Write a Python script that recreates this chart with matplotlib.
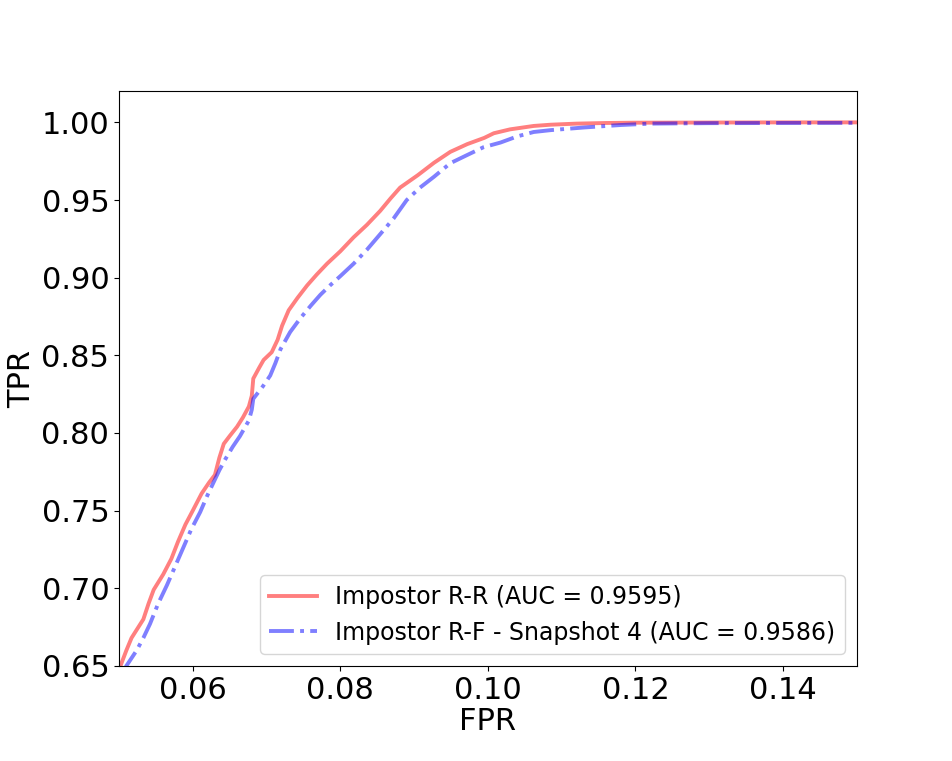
import numpy as np
import matplotlib
matplotlib.use("Agg")
import matplotlib.pyplot as plt

# ROC points (FPR, TPR)
fpr_rr = [0.0500, 0.0502, 0.0510, 0.0517, 0.0525, 0.0533, 0.0540, 0.0547, 0.0560,
          0.0571, 0.0580, 0.0590, 0.0600, 0.0612, 0.0622, 0.0630, 0.0636, 0.0642,
          0.0650, 0.0660, 0.0668, 0.0676, 0.0680, 0.0682, 0.0690, 0.0696, 0.0707,
          0.0715, 0.0721, 0.0730, 0.0742, 0.0755, 0.0768, 0.0782, 0.0800, 0.0818,
          0.0836, 0.0854, 0.0868, 0.0881, 0.0905, 0.0927, 0.0949, 0.0972, 0.0995,
          0.1008, 0.1030, 0.1062, 0.1085, 0.1120, 0.1160, 0.1198, 0.1300, 0.1400,
          0.1500]
tpr_rr = [0.645, 0.650, 0.660, 0.668, 0.674, 0.680, 0.690, 0.699, 0.709,
          0.719, 0.730, 0.741, 0.750, 0.761, 0.768, 0.773, 0.784, 0.793,
          0.798, 0.804, 0.810, 0.817, 0.824, 0.835, 0.842, 0.847, 0.852,
          0.860, 0.869, 0.879, 0.887, 0.895, 0.902, 0.909, 0.917, 0.926,
          0.934, 0.943, 0.951, 0.958, 0.966, 0.974, 0.981, 0.986, 0.990,
          0.993, 0.9955, 0.9977, 0.9985, 0.9992, 0.9996, 0.9998, 0.9999, 1.0000,
          1.0000]

fpr_rf = [0.0505, 0.0510, 0.0517, 0.0524, 0.0533, 0.0542, 0.0553, 0.0565, 0.0576,
          0.0587, 0.0598, 0.0610, 0.0620, 0.0628, 0.0636, 0.0644, 0.0654, 0.0664,
          0.0670, 0.0676, 0.0680, 0.0682, 0.0695, 0.0705, 0.0712, 0.0719, 0.0732,
          0.0746, 0.0760, 0.0773, 0.0786, 0.0800, 0.0818, 0.0836, 0.0854, 0.0872,
          0.0890, 0.0908, 0.0927, 0.0949, 0.0972, 0.0994, 0.1017, 0.1040, 0.1062,
          0.1085, 0.1130, 0.1180, 0.1221, 0.1300, 0.1400, 0.1500]
tpr_rf = [0.645, 0.650, 0.655, 0.660, 0.668, 0.677, 0.690, 0.702, 0.714,
          0.726, 0.738, 0.749, 0.760, 0.768, 0.776, 0.783, 0.791, 0.798,
          0.803, 0.808, 0.815, 0.822, 0.830, 0.837, 0.845, 0.854, 0.865,
          0.874, 0.882, 0.889, 0.895, 0.901, 0.909, 0.918, 0.928, 0.938,
          0.950, 0.958, 0.965, 0.9737, 0.979, 0.984, 0.987, 0.991, 0.9938,
          0.9950, 0.9967, 0.9983, 0.9992, 0.9995, 0.9996, 0.9997]

label_rr = 'Impostor R-R (AUC = 0.9595)'
label_rf = 'Impostor R-F - Snapshot 4 (AUC = 0.9586)'

fig, ax = plt.subplots(figsize=(9.52, 7.61), dpi=100)
fig.subplots_adjust(left=0.125, right=0.9, bottom=0.125, top=0.88)

ax.plot(fpr_rr, tpr_rr, color='red', alpha=0.5, linewidth=2.8, label=label_rr)
ax.plot(fpr_rf, tpr_rf, color='blue', alpha=0.5, linewidth=2.8, linestyle='-.',
        label=label_rf)

ax.set_xlim(0.05, 0.15)
ax.set_ylim(0.65, 1.02)
ax.set_xticks([0.06, 0.08, 0.10, 0.12, 0.14])
ax.set_yticks([0.65, 0.70, 0.75, 0.80, 0.85, 0.90, 0.95, 1.00])
ax.tick_params(labelsize=22)
ax.set_xlabel('FPR', fontsize=22, labelpad=2)
ax.set_ylabel('TPR', fontsize=22)
ax.legend(loc='lower right', fontsize=17)

plt.savefig('out.png', dpi=100)
plt.close()
